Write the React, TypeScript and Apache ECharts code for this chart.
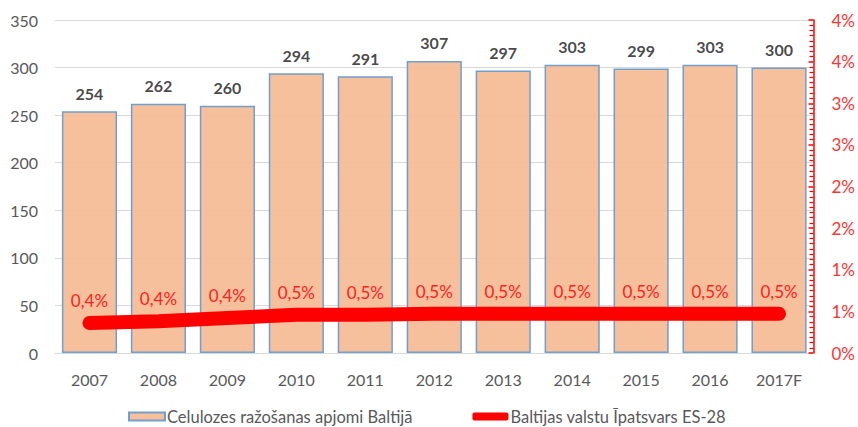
import React, { useEffect, useRef } from "react";
import * as echarts from "echarts";

const categories = ["2007", "2008", "2009", "2010", "2011", "2012", "2013", "2014", "2015", "2016", "2017F"];
const production = [254, 262, 260, 294, 291, 307, 297, 303, 299, 303, 300];
const sharePct = [0.36, 0.38, 0.42, 0.46, 0.46, 0.47, 0.47, 0.47, 0.47, 0.47, 0.47];
const barName = "Celulozes ražošanas apjomi Baltijā";
const lineName = "Baltijas valstu Īpatsvars ES-28";

const FONT = "Lato, 'Open Sans', sans-serif";

export default function App() {
  const ref = useRef<HTMLDivElement>(null);
  useEffect(() => {
    document.body.style.margin = "0";
    const chart = echarts.init(ref.current!, null, { renderer: "svg" });
    chart.setOption({
      animation: false,
      backgroundColor: "#ffffff",
      textStyle: { fontFamily: FONT },
      grid: { left: 55, right: 43, top: 20, bottom: 74, containLabel: false },
      legend: {
        top: 403,
        left: 123,
        itemWidth: 36,
        itemHeight: 8,
        itemGap: 60,
        textStyle: { color: "#595959", fontSize: 16.5, fontFamily: FONT, padding: [0, 0, 0, -3] },
        data: [
          { name: barName, icon: "rect" },
          { name: lineName, icon: "roundRect", itemStyle: { color: "#FF0000", borderWidth: 0 } },
        ],
      },
      xAxis: {
        type: "category",
        data: categories,
        axisLine: { show: true, lineStyle: { color: "#D9D9D9" } },
        axisTick: { show: false },
        axisLabel: { color: "#595959", fontSize: 16, margin: 18, fontFamily: FONT },
      },
      yAxis: [
        {
          type: "value",
          min: 0,
          max: 350,
          interval: 50,
          axisLine: { show: false },
          axisTick: { show: false },
          axisLabel: { color: "#595959", fontSize: 16, margin: 17, fontFamily: FONT },
          splitLine: { lineStyle: { color: "#D9D9D9", width: 1 } },
        },
        {
          type: "value",
          min: 0,
          max: 4,
          interval: 0.5,
          position: "right",
          axisLine: { show: true, lineStyle: { color: "#FF0000", width: 1.5 } },
          axisTick: { show: true, inside: true, length: 5, lineStyle: { color: "#FF0000", width: 1.5 } },
          minorTick: { show: true, splitNumber: 8, length: 4, lineStyle: { color: "#FF0000", width: 1.2 } },
          axisLabel: {
            color: "#FF3333",
            fontSize: 17,
            margin: 18,
            fontFamily: FONT,
            formatter: (v: number) => Math.round(v) + "%",
          },
          splitLine: { show: false },
        },
      ],
      series: [
        {
          name: barName,
          type: "bar",
          data: production,
          barCategoryGap: "20%",
          itemStyle: { color: "#F4BD96", borderColor: "#6A9BCF", borderWidth: 1.5, opacity: 0.95 },
          label: {
            show: true,
            position: "top",
            distance: 10,
            color: "#404040",
            fontSize: 16,
            fontWeight: "bold",
            fontFamily: FONT,
          },
        },
        {
          name: lineName,
          type: "line",
          yAxisIndex: 1,
          data: sharePct,
          symbol: "circle",
          symbolSize: 2,
          itemStyle: { color: "#FF0000" },
          lineStyle: { color: "#FF0000", width: 14, cap: "round", join: "round" },
          label: {
            show: true,
            position: "top",
            distance: 13,
            color: "#FF2020",
            fontSize: 17,
            fontFamily: FONT,
            formatter: (p: any) => p.value.toFixed(1).replace(".", ",") + "%",
          },
          z: 5,
        },
      ],
    });
    return () => chart.dispose();
  }, []);
  return <div ref={ref} style={{ width: 858, height: 427 }} />;
}
